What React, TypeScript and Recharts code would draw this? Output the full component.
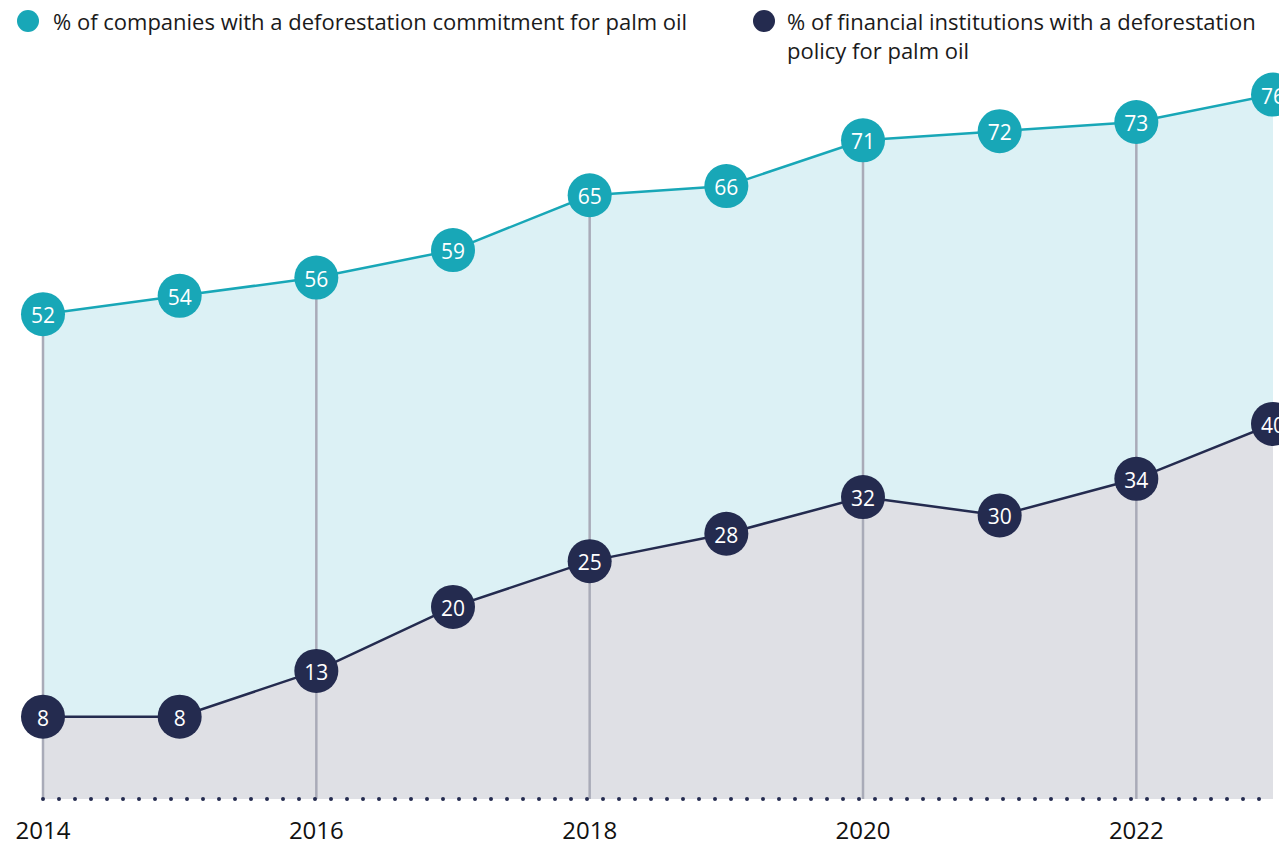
import { ComposedChart, Area, Line, XAxis, YAxis, ReferenceLine } from "recharts"

const years = ["2014", "2015", "2016", "2017", "2018", "2019", "2020", "2021", "2022", "2023"]
const companies = [52, 54, 56, 59, 65, 66, 71, 72, 73, 76]
const institutions = [8, 8, 13, 20, 25, 28, 32, 30, 34, 40]
const tickYears = ["2014", "2016", "2018", "2020", "2022"]

const TEAL = "#18a7b7"
const NAVY = "#242b4f"
const FONT = "'Open Sans', 'Noto Sans', sans-serif"

const data = years.map((year, i) => ({
  year,
  companies: companies[i],
  institutions: institutions[i],
}))

const makeDot = (color: string) => (props: any) => {
  const { cx, cy, value, index } = props
  if (cx == null || cy == null) return <g key={index} />
  return (
    <g key={index}>
      <circle cx={cx} cy={cy} r={22} fill={color} />
      <text
        x={cx}
        y={cy + 1}
        textAnchor="middle"
        dominantBaseline="central"
        fill="#ffffff"
        fontSize={21}
        fontWeight={500}
        fontFamily={FONT}
      >
        {value}
      </text>
    </g>
  )
}

const YearTick = (props: any) => {
  const { x, payload } = props
  if (!tickYears.includes(payload.value)) return <g />
  return (
    <text x={x} y={829} textAnchor="middle" dominantBaseline="central" fill="#111" fontSize={24} fontWeight={500} fontFamily={FONT}>
      {payload.value}
    </text>
  )
}

export default function App() {
  return (
    <div style={{ position: "absolute", left: 0, top: 0, width: 1279, height: 841, background: "#fff" }}>
      <div style={{ position: "absolute", left: 0, top: 0, width: 1279, fontFamily: FONT, fontSize: 22, color: "#1a1a1a", lineHeight: "29px" }}>
        <div style={{ position: "absolute", left: 17, top: 10, width: 22, height: 22, borderRadius: 11, background: TEAL }} />
        <div style={{ position: "absolute", left: 53, top: 7, whiteSpace: "nowrap" }}>% of companies with a deforestation commitment for palm oil</div>
        <div style={{ position: "absolute", left: 753, top: 10, width: 22, height: 22, borderRadius: 11, background: NAVY }} />
        <div style={{ position: "absolute", left: 787, top: 7, width: 490, whiteSpace: "nowrap" }}>
          % of financial institutions with a deforestation
          <br />
          policy for palm oil
        </div>
      </div>
      <div style={{ position: "absolute", left: 0, top: 0 }}>
        <ComposedChart width={1279} height={841} data={data} margin={{ top: 58, right: 6, bottom: 0, left: 43 }}>
          <XAxis
            dataKey="year"
            type="category"
            scale="point"
            padding={{ left: 0, right: 0 }}
            height={42}
            interval={0}
            tickLine={false}
            axisLine={{ stroke: NAVY, strokeWidth: 4, strokeDasharray: "0 16", strokeLinecap: "round" }}
            tick={<YearTick />}
          />
          <YAxis hide type="number" domain={[-1, 80]} />
          <Area
            dataKey="companies"
            type="linear"
            fill="#dcf1f5"
            fillOpacity={1}
            stroke="none"
            baseValue="dataMin"
            dot={false}
            activeDot={false}
            isAnimationActive={false}
          />
          <Area
            dataKey="institutions"
            type="linear"
            fill="#dfe0e5"
            fillOpacity={1}
            stroke="none"
            baseValue="dataMin"
            dot={false}
            activeDot={false}
            isAnimationActive={false}
          />
          {tickYears.map((y) => (
            <ReferenceLine
              key={y}
              segment={[
                { x: y, y: -1 },
                { x: y, y: companies[years.indexOf(y)] },
              ]}
              stroke="#a9abb8"
              strokeWidth={2.5}
              ifOverflow="visible"
            />
          ))}
          <Line
            dataKey="companies"
            type="linear"
            stroke={TEAL}
            strokeWidth={2.5}
            dot={makeDot(TEAL)}
            activeDot={false}
            isAnimationActive={false}
          />
          <Line
            dataKey="institutions"
            type="linear"
            stroke={NAVY}
            strokeWidth={2.5}
            dot={makeDot(NAVY)}
            activeDot={false}
            isAnimationActive={false}
          />
        </ComposedChart>
      </div>
    </div>
  )
}
